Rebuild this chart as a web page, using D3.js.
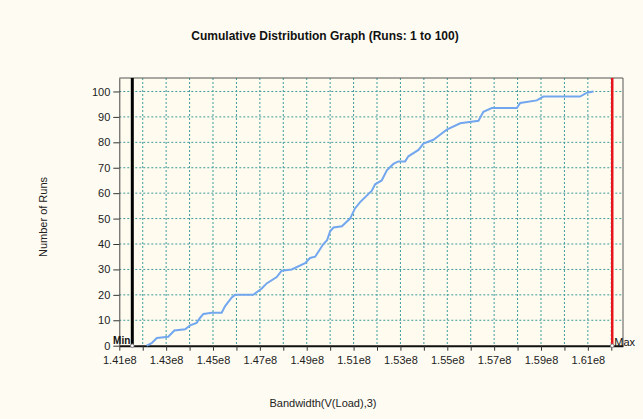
<!DOCTYPE html>
<html>
<head>
<meta charset="utf-8">
<script src="https://cdn.jsdelivr.net/npm/d3@7"></script>
<style>
  body { margin: 0; background: #fefcf2; }
  svg { display: block; font-family: "Liberation Sans", Arial, sans-serif; }
</style>
</head>
<body>
<svg id="chart" width="643" height="419"></svg>
<script>
// bandwidth (x) and cumulative run count (y)
var bandwidth = [142.17e6, 142.38e6, 142.60e6, 143.09e6, 143.35e6, 143.81e6, 144.02e6, 144.30e6,
  144.45e6, 144.59e6, 144.95e6, 145.37e6, 145.51e6, 145.80e6, 145.94e6, 146.72e6, 147.08e6,
  147.29e6, 147.72e6, 147.93e6, 148.36e6, 148.93e6, 149.14e6, 149.36e6, 149.71e6, 149.87e6,
  150.00e6, 150.14e6, 150.50e6, 150.85e6, 151.06e6, 151.28e6, 151.78e6, 151.92e6, 152.20e6,
  152.42e6, 152.70e6, 152.91e6, 153.20e6, 153.34e6, 153.77e6, 153.98e6, 154.41e6, 154.69e6,
  154.98e6, 155.55e6, 156.33e6, 156.54e6, 156.90e6, 157.97e6, 158.11e6, 158.82e6, 159.10e6,
  160.67e6, 160.96e6, 161.24e6];
var runs = [0, 1, 3, 3.5, 6, 6.5, 8, 9, 11, 12.5, 13, 13, 15.5, 19, 20, 20, 22.5, 24.5, 27, 29.5,
  30, 32.5, 34.5, 35, 40, 41.5, 45, 46.5, 47, 50, 54, 56.5, 61, 63.5, 65, 69, 71.5, 72.5, 72.5,
  74.5, 77, 79.5, 81, 83, 85, 87.5, 88.5, 92, 93.5, 93.5, 95.5, 96.5, 98, 98, 99.5, 100];
var minValue = 141.555e6, maxValue = 162.04e6;
var xTicks = d3.range(141e6, 162.5e6, 1e6);
var yTicks = d3.range(0, 101, 10);

var svg = d3.select("#chart");
var pLeft = 119.3, pRight = 623, pTop = 78, pBottom = 345.7;

var x = d3.scaleLinear().domain([141e6, 162.5e6]).range([pLeft, pRight]);
var y = d3.scaleLinear().domain([0, 105.3]).range([pBottom, pTop]);

svg.append("rect").attr("x", pLeft).attr("y", pTop)
  .attr("width", pRight - pLeft).attr("height", pBottom - pTop)
  .attr("fill", "#fffcef");

// grid
svg.append("g").selectAll("line").data(xTicks.slice(1)).enter().append("line")
  .attr("x1", d => x(d)).attr("x2", d => x(d)).attr("y1", pTop).attr("y2", pBottom)
  .attr("stroke", "#3f9a9c").attr("stroke-width", 1).attr("stroke-dasharray", "2,2");
svg.append("g").selectAll("line").data(yTicks.slice(1)).enter().append("line")
  .attr("x1", pLeft).attr("x2", pRight).attr("y1", d => y(d)).attr("y2", d => y(d))
  .attr("stroke", "#3f9a9c").attr("stroke-width", 1).attr("stroke-dasharray", "2,2");

// frame
svg.append("path")
  .attr("d", "M" + pLeft + "," + pTop + "H" + pRight + "V" + pBottom)
  .attr("fill", "none").attr("stroke", "#555").attr("stroke-width", 1);

// axes
var xAxis = d3.axisBottom(x).tickValues(xTicks).tickSize(5).tickSizeOuter(0)
  .tickFormat((d, i) => i % 2 == 0 ? (d / 1e8).toFixed(2) + "e8" : "");
var gx = svg.append("g").attr("transform", "translate(0," + pBottom + ")").call(xAxis);
gx.select(".domain").attr("stroke", "#111").attr("stroke-width", 2);
gx.selectAll(".tick line").attr("stroke", "#333");
gx.selectAll("text").attr("font-size", 11).attr("fill", "#222").attr("dy", "0.95em");

var yAxis = d3.axisLeft(y).tickValues(yTicks).tickSize(6).tickSizeOuter(0);
var gy = svg.append("g").attr("transform", "translate(" + pLeft + ",0)").call(yAxis);
gy.select(".domain").attr("stroke", "#444");
gy.selectAll(".tick line").attr("stroke", "#333");
gy.selectAll("text").attr("font-size", 11).attr("fill", "#222");

// cdf curve
var line = d3.line().x(d => x(d[0])).y(d => y(d[1]));
svg.append("path").datum(d3.zip(bandwidth, runs))
  .attr("d", line).attr("fill", "none")
  .attr("stroke", "#72a7ef").attr("stroke-width", 2);

// min / max markers
svg.append("line").attr("x1", x(minValue)).attr("x2", x(minValue))
  .attr("y1", pTop).attr("y2", pBottom).attr("stroke", "#000").attr("stroke-width", 3);
svg.append("line").attr("x1", x(maxValue)).attr("x2", x(maxValue))
  .attr("y1", pTop).attr("y2", pBottom).attr("stroke", "#e8141b").attr("stroke-width", 2.5);
[minValue, maxValue].forEach(function(v) {
  svg.append("circle").attr("cx", x(v)).attr("cy", pBottom).attr("r", 1.8)
    .attr("fill", "#fff").attr("stroke", "#777").attr("stroke-width", 0.8);
});
svg.append("text").attr("x", x(minValue) - 2).attr("y", pBottom - 2)
  .attr("text-anchor", "end").attr("font-size", 10).attr("font-weight", "bold")
  .attr("fill", "#111").text("Min");
svg.append("text").attr("x", x(maxValue) + 2).attr("y", pBottom)
  .attr("font-size", 11).attr("fill", "#111").text("Max");

// titles
svg.append("text").attr("x", 325).attr("y", 40).attr("text-anchor", "middle")
  .attr("font-size", 12).attr("font-weight", "bold").attr("fill", "#111")
  .text("Cumulative Distribution Graph (Runs: 1 to 100)");
svg.append("text").attr("transform", "translate(47,217) rotate(-90)")
  .attr("text-anchor", "middle").attr("font-size", 11).attr("fill", "#222")
  .text("Number of Runs");
svg.append("text").attr("x", 323).attr("y", 407).attr("text-anchor", "middle")
  .attr("font-size", 11).attr("fill", "#222")
  .text("Bandwidth(V(Load),3)");
</script>
</body>
</html>
